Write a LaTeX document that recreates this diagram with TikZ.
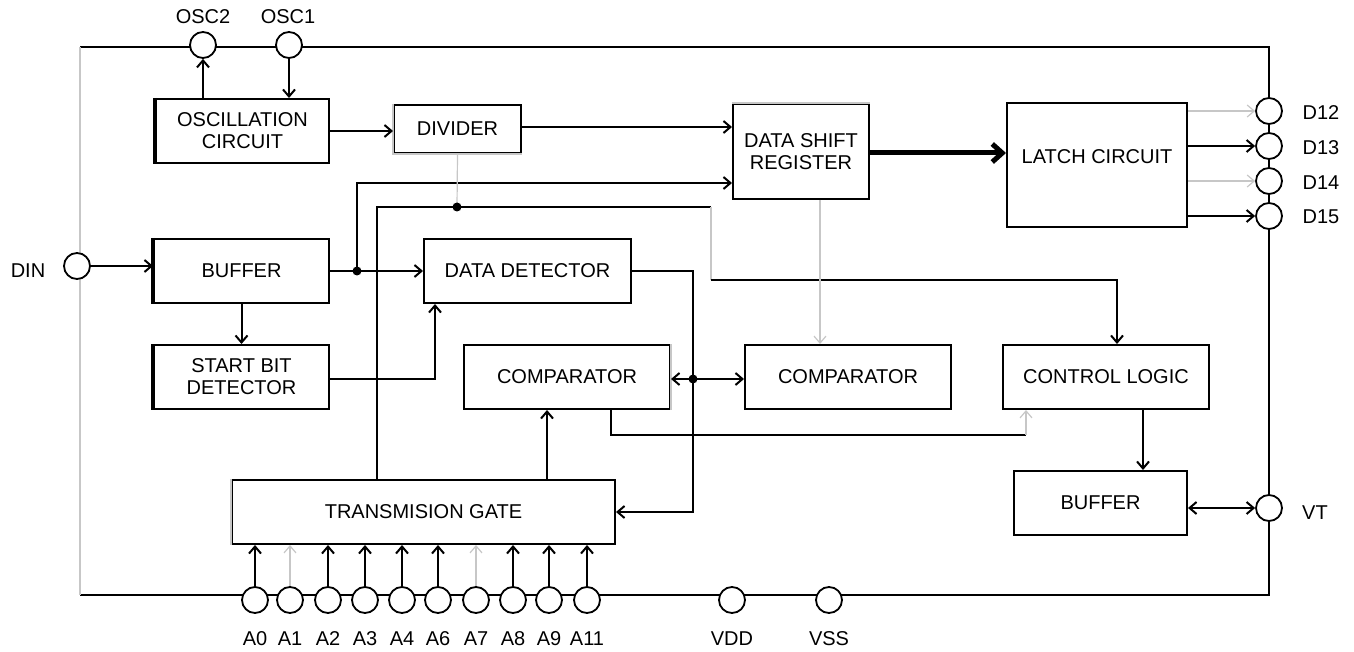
\documentclass[tikz,border=0pt]{standalone}
\usepackage{fontspec}
\setmainfont{Liberation Sans}
\usetikzlibrary{arrows.meta,calc}
\begin{document}
\begin{tikzpicture}[x=1pt,y=-1pt,line width=2pt,
  font=\fontsize{20}{22}\selectfont,
  box/.style={draw, line width=2pt, align=center, inner sep=0pt, minimum height=64pt, fill=white},
  pinc/.style={circle, draw, fill=white, line width=1.8pt, minimum size=26pt, inner sep=0pt},
  arr/.style={-{Straight Barb[length=7pt,width=12pt]}},
  darr/.style={{Straight Barb[length=7pt,width=12pt]}-{Straight Barb[length=7pt,width=12pt]}},
  bigarr/.style={line width=5pt,-{Straight Barb[length=10pt,width=18pt]}},
  faint/.style={draw=black!22, line width=1.2pt},
  eraser/.style={draw=white, line width=2.8pt},
  lab/.style={inner sep=0pt}]
\useasboundingbox (0,0) rectangle (1354,652);

% frame of the chip
\draw (80,47) -- (1269,47) -- (1269,595) -- (80,595);
\draw[faint] (80,47) -- (80,595);

% blocks
\node[box, minimum width=173pt] (osc) at (242.5,131) {OSCILLATION\\CIRCUIT};
\node[box, minimum width=127pt, minimum height=48pt] (div) at (457.5,129) {DIVIDER};
\node[box, minimum width=136pt, minimum height=95pt] (dsr) at (801,151.5) {DATA SHIFT\\REGISTER};
\node[box, minimum width=180pt, minimum height=124pt,
      label={[yshift=8pt]center:LATCH CIRCUIT}] (latch) at (1097,165) {};
\node[box, minimum width=175pt] (buf) at (241.5,271) {BUFFER};
\node[box, minimum width=175pt] (sbd) at (241.5,377) {START BIT\\DETECTOR};
\node[box, minimum width=207pt] (dd) at (527.5,271) {DATA DETECTOR};
\node[box, minimum width=206pt] (cmpa) at (567,377) {COMPARATOR};
\node[box, minimum width=206pt] (cmpb) at (848,377) {COMPARATOR};
\node[box, minimum width=206pt] (cl) at (1106,377) {CONTROL LOGIC};
\node[box, minimum width=383pt] (tg) at (423.5,512) {TRANSMISION GATE};
\node[box, minimum width=173pt] (bufb) at (1100.5,503) {BUFFER};

% thick left edges
\draw[line width=4pt] (osc.north west) -- (osc.south west);
\draw[line width=4pt] (buf.north west) -- (buf.south west);
\draw[line width=4pt] (sbd.north west) -- (sbd.south west);

% faint edges
\draw[eraser] (div.north west) -- (div.south west) -- (div.south east);
\draw[faint] (div.north west) -- (div.south west) -- (div.south east);
\draw[eraser] (dsr.north west) -- (dsr.north east);
\draw[faint] (dsr.north west) -- (dsr.north east);
\draw[eraser] (cmpa.north east) -- (cmpa.south east);
\draw[faint] (cmpa.north east) -- (cmpa.south east);
\draw[eraser] (tg.north west) -- (tg.south west);
\draw[faint] (tg.north west) -- (tg.south west);

% pins
\node[pinc] (osc2) at (203,45) {};
\node[pinc] (osc1) at (289,45) {};
\node[pinc] (din) at (77,266) {};
\node[pinc] (d12) at (1269,111) {};
\node[pinc] (d13) at (1269,146) {};
\node[pinc] (d14) at (1269,181) {};
\node[pinc] (d15) at (1269,216) {};
\node[pinc] (vt) at (1269,508) {};
\foreach \n/\x in {a0/255,a1/290,a2/328,a3/365,a4/402,a6/438,a7/476,a8/513,a9/549,a11/587,vdd/732,vss/829}
  \node[pinc] (\n) at (\x,600) {};

% pin labels
\node[lab] (losc2) at (203,17) {OSC2};
\node[lab] (losc1) at (288,17) {OSC1};
\node[lab] (ldin) at (28,271) {DIN};
\node[lab] (ld12) at (1321,113) {D12};
\node[lab] (ld13) at (1321,148) {D13};
\node[lab] (ld14) at (1321,183) {D14};
\node[lab] (ld15) at (1321,217) {D15};
\node[lab] (lvt) at (1315,513) {VT};
\foreach \n/\t/\x in {la0/A0/255,la1/A1/290,la2/A2/328,la3/A3/365,la4/A4/402,la6/A6/438,la7/A7/476,la8/A8/513,la9/A9/549,la11/A11/587,lvdd/VDD/732,lvss/VSS/829}
  \node[lab] (\n) at (\x,639) {\t};

% junction points
\coordinate (j1) at (357,271);
\coordinate (j2) at (457,207);
\coordinate (j3) at (693,379);
\coordinate (k1) at (377,207);
\coordinate (k2) at (711,207);
\coordinate (k3) at (711,280);
\coordinate (k5) at (1026,435);

% oscillator
\draw[arr] (osc.north -| osc2) -- (osc2.south);
\draw[arr] (osc1.south) -- (osc1.south |- osc.north);
\draw[arr] (osc.east) -- (osc.east -| div.west);
\draw[arr] ([yshift=2pt]div.east) -- ([yshift=2pt]div.east -| dsr.west);

% data path
\draw[arr] (din.east) -- (din.east -| buf.west);
\draw[arr] (buf.east) -- (dd.west);
\draw[arr] (j1) |- ([yshift=-31.5pt]dsr.west);
\draw[bigarr] ([yshift=-1.5pt]dsr.east) -- ([yshift=-1.5pt]dsr.east -| latch.west);
\draw[arr] (buf.south) -- (sbd.north);
\draw[arr] ([yshift=-2pt]sbd.east) -| ([xshift=-92.5pt]dd.south);

% divider tap and timing net
\draw[faint] (div.south) -- (j2);
\draw ([xshift=-46.5pt]tg.north) -- (k1) -- (k2);
\draw[faint] (k2) -- (k3);
\draw[arr] (k3) -| ([xshift=11pt]cl.north);

% data detector to transmission gate
\draw[arr] (dd.east) -| (j3) |- (tg.east);
\draw[arr] (j3) -- (j3 -| cmpa.east);
\draw[arr] (j3) -- (j3 -| cmpb.west);

% comparators
\draw[faint,arr] ([xshift=19pt]dsr.south) -- ([xshift=19pt]dsr.south |- cmpb.north);
\draw ([xshift=44pt]cmpa.south) |- (k5);
\draw[faint,arr] (k5) -- (k5 |- cl.south);
\draw[arr] ([xshift=123.5pt]tg.north) -- ([xshift=123.5pt]tg.north |- cmpa.south);

% control logic and output buffer
\draw[arr] ([xshift=37pt]cl.south) -- ([xshift=37pt]cl.south |- bufb.north);
\draw[darr] (bufb.east |- vt) -- (vt.west);

% latch outputs
\draw[faint,arr] (latch.east |- d12) -- (d12.west);
\draw[arr] (latch.east |- d13) -- (d13.west);
\draw[faint,arr] (latch.east |- d14) -- (d14.west);
\draw[arr] (latch.east |- d15) -- (d15.west);

% address inputs
\foreach \n in {a0,a2,a3,a4,a6,a8,a9,a11}
  \draw[arr] (\n.north) -- (\n.north |- tg.south);
\foreach \n in {a1,a7}
  \draw[faint,arr] (\n.north) -- (\n.north |- tg.south);

% junction dots
\fill (j1) circle (4.5pt);
\fill (j2) circle (4.5pt);
\fill (j3) circle (4.5pt);
\end{tikzpicture}
\end{document}
